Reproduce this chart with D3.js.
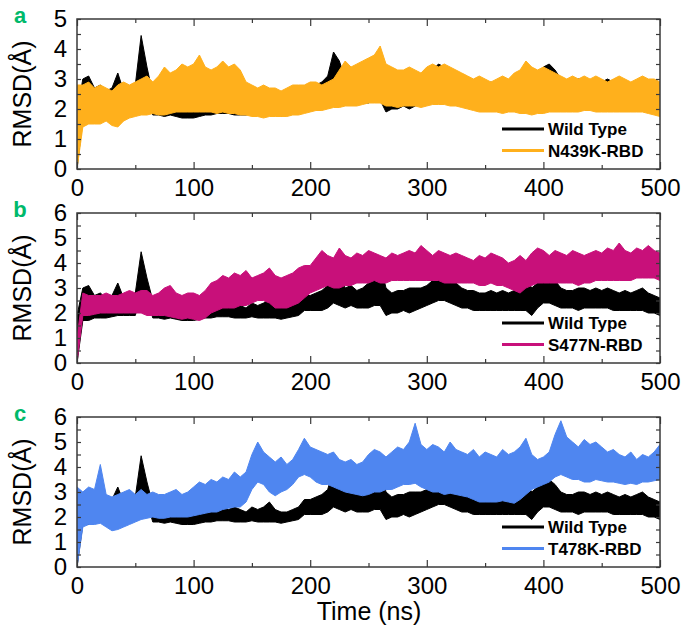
<!DOCTYPE html>
<html>
<head>
<style>
  body {
    margin: 0;
    background-color: #ffffff;
  }

  svg {
    font-family: "Liberation Sans", Arial, sans-serif;
  }

  .tick text {
    font-size: 24px;
    fill: #000;
  }

  .legend {
    font-size: 17px;
    font-weight: bold;
  }
</style>
  <script src="https://d3js.org/d3.v7.min.js"></script>
</head>
<body>
<script>
  // time grid, every 5 ns
  const times = d3.range(0, 501, 5);

  // RMSD envelopes (min / max within each 5 ns window)
  const wildLo = [0.0, 1.7, 1.7, 1.8, 1.8, 1.8, 1.85, 1.9, 1.9, 1.9, 1.9, 2.7, 2.6, 1.8, 1.8, 1.75, 1.8, 1.75, 1.7, 1.7,
    1.7, 1.75, 1.8, 1.8, 1.85, 1.85, 1.85, 1.8, 1.8, 1.8, 1.85, 1.8, 1.8, 1.8, 1.8, 1.75, 1.8, 1.85, 1.9, 2.1,
    2.1, 2.1, 2.1, 2.2, 2.4, 2.3, 2.2, 2.3, 2.2, 2.2, 2.2, 2.3, 2.3, 1.9, 2.0, 2.0, 2.1, 2.0, 2.1, 2.2,
    2.3, 2.4, 2.5, 2.5, 2.4, 2.3, 2.2, 2.2, 2.1, 2.1, 2.1, 2.1, 2.1, 2.1, 2.1, 2.1, 2.1, 2.1, 1.9, 2.2,
    2.4, 2.4, 2.3, 2.2, 2.2, 2.2, 2.1, 2.2, 2.2, 2.2, 2.2, 2.2, 2.1, 2.1, 2.1, 2.1, 2.1, 2.1, 2.0, 2.0, 1.9];
  const wildHi = [1.9, 3.0, 3.1, 2.7, 2.8, 2.6, 2.7, 3.2, 2.6, 2.7, 2.8, 4.45, 3.4, 2.5, 2.3, 2.2, 2.2, 2.2, 2.3, 2.4,
    2.4, 2.3, 2.4, 2.3, 2.4, 2.5, 2.3, 2.4, 2.3, 2.2, 2.4, 2.3, 2.4, 2.6, 2.3, 2.2, 2.2, 2.3, 2.4, 2.7,
    2.7, 2.8, 2.9, 3.1, 3.9, 3.6, 3.0, 3.1, 2.9, 3.0, 3.2, 3.4, 4.0, 3.0, 2.8, 2.9, 2.9, 3.0, 3.0, 3.0,
    3.1, 3.3, 3.5, 3.4, 3.3, 3.2, 3.0, 2.9, 2.9, 2.8, 2.8, 2.9, 2.8, 2.9, 2.8, 2.9, 3.0, 3.4, 3.0, 3.2,
    3.4, 3.5, 3.3, 3.0, 2.9, 2.9, 3.0, 3.0, 2.9, 3.0, 2.9, 3.0, 2.9, 2.8, 2.9, 2.8, 2.9, 3.0, 2.8, 2.7, 2.6];

  const n439kLo = [0.0, 1.4, 1.5, 1.5, 1.5, 1.6, 1.45, 1.4, 1.6, 1.7, 1.75, 1.8, 1.8, 1.85, 1.8, 1.8, 1.85, 1.9, 1.9, 1.9,
    1.9, 1.9, 1.9, 1.9, 1.85, 1.9, 1.85, 1.85, 1.8, 1.8, 1.75, 1.75, 1.7, 1.75, 1.75, 1.75, 1.75, 1.8, 1.8, 1.85,
    1.9, 1.95, 1.95, 2.0, 2.05, 2.05, 2.1, 2.1, 2.1, 2.15, 2.2, 2.2, 2.2, 2.1, 2.1, 2.05, 2.1, 2.1, 2.1, 2.05,
    2.1, 2.15, 2.15, 2.15, 2.1, 2.1, 2.05, 2.0, 1.95, 1.9, 1.9, 1.9, 1.9, 1.85, 1.9, 1.9, 1.85, 1.85, 1.8, 1.85,
    1.85, 1.9, 1.9, 1.9, 1.9, 1.9, 1.9, 1.95, 1.95, 1.9, 1.9, 1.9, 1.9, 1.9, 1.9, 1.9, 1.9, 1.9, 1.85, 1.8, 1.75];
  const n439kHi = [2.8, 2.8, 2.9, 2.7, 2.8, 2.7, 2.6, 2.8, 2.9, 2.8, 2.9, 3.0, 3.1, 2.9, 3.1, 3.4, 3.2, 3.3, 3.5, 3.4,
    3.5, 3.8, 3.4, 3.3, 3.4, 3.6, 3.4, 3.5, 3.3, 2.9, 2.8, 2.7, 2.8, 2.7, 2.7, 2.6, 2.7, 2.8, 2.8, 2.8,
    2.9, 2.9, 2.8, 2.9, 3.0, 3.3, 3.6, 3.4, 3.5, 3.6, 3.7, 3.8, 4.1, 3.5, 3.4, 3.3, 3.3, 3.4, 3.3, 3.2,
    3.4, 3.5, 3.4, 3.5, 3.4, 3.3, 3.2, 3.1, 3.0, 3.1, 3.0, 2.9, 3.0, 3.1, 3.0, 3.2, 3.3, 3.6, 3.4, 3.3,
    3.4, 3.3, 3.2, 3.1, 3.0, 3.1, 3.0, 3.1, 3.0, 3.1, 3.0, 2.9, 3.0, 3.1, 3.0, 2.9, 3.0, 3.1, 3.0, 3.0, 2.9];

  const s477nLo = [0.0, 1.9, 1.9, 1.95, 2.0, 2.0, 2.0, 2.0, 2.0, 2.0, 2.0, 2.0, 1.9, 1.9, 1.9, 1.9, 1.85, 1.8, 1.75, 1.8,
    1.75, 1.7, 1.8, 2.0, 2.1, 2.2, 2.2, 2.2, 2.3, 2.3, 2.4, 2.5, 2.5, 2.4, 2.2, 2.2, 2.2, 2.3, 2.4, 2.6,
    2.8, 2.9, 3.0, 3.1, 3.0, 3.0, 3.1, 3.1, 3.2, 3.2, 3.2, 3.3, 3.2, 3.2, 3.3, 3.3, 3.3, 3.3, 3.3, 3.3,
    3.3, 3.3, 3.3, 3.2, 3.2, 3.2, 3.2, 3.2, 3.2, 3.1, 3.1, 3.2, 3.1, 3.1, 3.0, 2.9, 2.8, 3.0, 3.1, 3.2,
    3.2, 3.2, 3.2, 3.2, 3.2, 3.2, 3.1, 3.2, 3.2, 3.3, 3.3, 3.3, 3.3, 3.3, 3.3, 3.3, 3.4, 3.4, 3.4, 3.4, 3.3];
  const s477nHi = [1.0, 2.8, 2.7, 2.7, 2.7, 2.8, 2.7, 2.7, 2.8, 2.9, 2.8, 2.9, 2.9, 2.7, 2.8, 3.0, 3.1, 2.8, 2.7, 2.8,
    2.8, 2.7, 2.9, 3.2, 3.3, 3.5, 3.4, 3.6, 3.5, 3.7, 3.4, 3.5, 3.6, 3.8, 3.5, 3.4, 3.5, 3.6, 3.8, 3.9,
    3.9, 4.2, 4.5, 4.3, 4.2, 4.6, 4.3, 4.2, 4.4, 4.3, 4.5, 4.4, 4.3, 4.2, 4.4, 4.3, 4.4, 4.5, 4.4, 4.7,
    4.5, 4.3, 4.5, 4.4, 4.3, 4.4, 4.3, 4.2, 4.1, 4.3, 4.2, 4.4, 4.3, 4.2, 4.0, 4.1, 4.3, 4.1, 4.4, 4.6,
    4.5, 4.3, 4.5, 4.4, 4.3, 4.5, 4.4, 4.3, 4.4, 4.5, 4.4, 4.6, 4.5, 4.8, 4.5, 4.4, 4.6, 4.5, 4.7, 4.5, 4.4];

  const t478kLo = [0.0, 1.6, 1.7, 1.7, 1.75, 1.6, 1.45, 1.5, 1.6, 1.7, 1.8, 1.9, 1.95, 2.0, 1.95, 1.95, 2.0, 2.0, 2.0, 2.0,
    2.05, 2.1, 2.15, 2.2, 2.2, 2.3, 2.35, 2.4, 2.4, 2.6, 3.1, 3.4, 3.3, 3.0, 2.85, 3.0, 3.1, 3.3, 3.6, 3.7,
    3.6, 3.4, 3.3, 3.3, 3.2, 3.1, 3.0, 2.95, 2.9, 2.85, 2.9, 3.0, 3.0, 3.1, 3.1, 3.2, 3.3, 3.3, 3.35, 3.2,
    3.1, 3.0, 3.0, 2.9, 2.95, 2.9, 2.85, 2.8, 2.7, 2.6, 2.6, 2.6, 2.6, 2.65, 2.6, 2.55, 2.7, 2.9, 3.1, 3.2,
    3.3, 3.4, 3.6, 3.7, 3.6, 3.5, 3.5, 3.4, 3.4, 3.5, 3.45, 3.4, 3.4, 3.35, 3.3, 3.35, 3.3, 3.4, 3.4, 3.45, 3.5];
  const t478kHi = [3.2, 3.0, 3.2, 3.1, 4.1, 2.9, 2.8, 2.9, 3.0, 3.1, 2.9, 3.1, 2.9, 3.0, 2.9, 2.9, 3.0, 3.1, 2.9, 3.0,
    3.2, 3.4, 3.3, 3.5, 3.4, 3.6, 3.5, 3.8, 3.6, 3.8, 4.5, 5.0, 4.6, 4.4, 4.2, 4.4, 4.1, 4.3, 4.7, 5.15,
    4.8, 4.7, 4.6, 4.5, 4.6, 4.3, 4.2, 4.3, 4.1, 4.2, 4.5, 4.7, 4.6, 4.4, 4.6, 4.8, 4.7, 5.0, 5.75, 4.9,
    4.7, 4.9, 4.8, 4.6, 5.0, 4.7, 4.6, 4.5, 4.7, 4.4, 4.6, 4.5, 4.4, 4.7, 4.5, 4.6, 4.8, 5.15, 4.5, 4.3,
    4.4, 4.6, 5.3, 5.85, 5.2, 5.0, 4.8, 5.1, 4.9, 5.0, 4.8, 4.6, 4.7, 4.5, 4.4, 4.6, 4.3, 4.5, 4.4, 4.6, 4.9];

  const xTicks = [0, 100, 200, 300, 400, 500];

  const panels = [
    { letter: 'a', top: 19, yMax: 5, lo: n439kLo, hi: n439kHi, color: '#ffb01c', name: 'N439K-RBD' },
    { letter: 'b', top: 213, yMax: 6, lo: s477nLo, hi: s477nHi, color: '#c8107a', name: 'S477N-RBD' },
    { letter: 'c', top: 417, yMax: 6, lo: t478kLo, hi: t478kHi, color: '#4f86f0', name: 'T478K-RBD' },
  ];

  const left = 77;
  const right = 660;
  const plotH = 150;
  const frameColor = '#3a3a3a';

  const svg = d3.select('body')
    .append('svg')
    .attr('width', 688)
    .attr('height', 638);

  const x = d3.scaleLinear().domain([0, 500]).range([left, right]);

  panels.forEach((p, i) => {
    const y = d3.scaleLinear().domain([0, p.yMax]).range([p.top + plotH, p.top]);
    const g = svg.append('g');

    const clipId = 'clip' + i;
    g.append('clipPath').attr('id', clipId)
      .append('rect')
      .attr('x', left).attr('y', p.top)
      .attr('width', right - left).attr('height', plotH);

    const band = (lo, hi) => d3.area()
      .x((d, j) => x(times[j]))
      .y0((d, j) => y(lo[j]))
      .y1((d, j) => y(hi[j]))(times);

    const marks = g.append('g').attr('clip-path', `url(#${clipId})`);

    // wild type underneath, mutant on top
    marks.append('path')
      .attr('d', band(wildLo, wildHi))
      .attr('fill', '#000')
      .attr('stroke', '#000')
      .attr('stroke-width', 1);

    marks.append('path')
      .attr('d', band(p.lo, p.hi))
      .attr('fill', p.color)
      .attr('stroke', p.color)
      .attr('stroke-width', 1);

    // axes with inward ticks
    const yTicks = d3.range(0, p.yMax + 0.01, 0.5);

    const bottom = g.append('g')
      .attr('transform', `translate(0,${p.top + plotH})`)
      .call(d3.axisBottom(x).tickValues(xTicks).tickSize(-7).tickPadding(10));

    g.append('g')
      .attr('transform', `translate(0,${p.top + plotH})`)
      .call(d3.axisBottom(x).tickValues([50, 150, 250, 350, 450]).tickSize(-4).tickFormat(''));

    g.append('g')
      .attr('transform', `translate(0,${p.top})`)
      .call(d3.axisTop(x).tickValues(xTicks).tickSize(-7).tickFormat(''));

    g.append('g')
      .attr('transform', `translate(0,${p.top})`)
      .call(d3.axisTop(x).tickValues([50, 150, 250, 350, 450]).tickSize(-4).tickFormat(''));

    g.append('g')
      .attr('transform', `translate(${left},0)`)
      .call(d3.axisLeft(y).tickValues(yTicks).tickSize(-4).tickPadding(10)
        .tickFormat(d => Number.isInteger(d) ? d : ''));

    g.append('g')
      .attr('transform', `translate(${right},0)`)
      .call(d3.axisRight(y).tickValues(yTicks).tickSize(-4).tickFormat(''));

    g.selectAll('.domain').remove();
    g.selectAll('.tick line').attr('stroke', frameColor).attr('stroke-width', 1.2);
    g.selectAll('.tick text').attr('font-family', null).attr('font-size', null);
    bottom.selectAll('.tick text').attr('dy', '0.71em');

    g.append('rect')
      .attr('x', left).attr('y', p.top)
      .attr('width', right - left).attr('height', plotH)
      .attr('fill', 'none')
      .attr('stroke', frameColor)
      .attr('stroke-width', 1.5);

    // y title
    g.append('text')
      .attr('transform', `translate(31,${p.top + plotH / 2}) rotate(-90)`)
      .attr('text-anchor', 'middle')
      .attr('font-size', 25)
      .text('RMSD(Å)');

    // panel letter
    g.append('text')
      .attr('x', 20)
      .attr('y', p.top + 4)
      .attr('text-anchor', 'middle')
      .attr('font-size', 22)
      .attr('font-weight', 'bold')
      .attr('fill', '#00b96b')
      .text(p.letter);

    // legend
    const legend = [
      { name: 'Wild Type', color: '#000' },
      { name: p.name, color: p.color },
    ];
    legend.forEach((item, k) => {
      const ly = p.top + plotH - 40 + k * 21.5;
      g.append('line')
        .attr('x1', 502).attr('x2', 544)
        .attr('y1', ly).attr('y2', ly)
        .attr('stroke', item.color)
        .attr('stroke-width', 3);
      g.append('text')
        .attr('class', 'legend')
        .attr('x', 548)
        .attr('y', ly + 6)
        .text(item.name);
    });
  });

  svg.append('text')
    .attr('x', 369)
    .attr('y', 620)
    .attr('text-anchor', 'middle')
    .attr('font-size', 25)
    .text('Time (ns)');
</script>
</body>
</html>
